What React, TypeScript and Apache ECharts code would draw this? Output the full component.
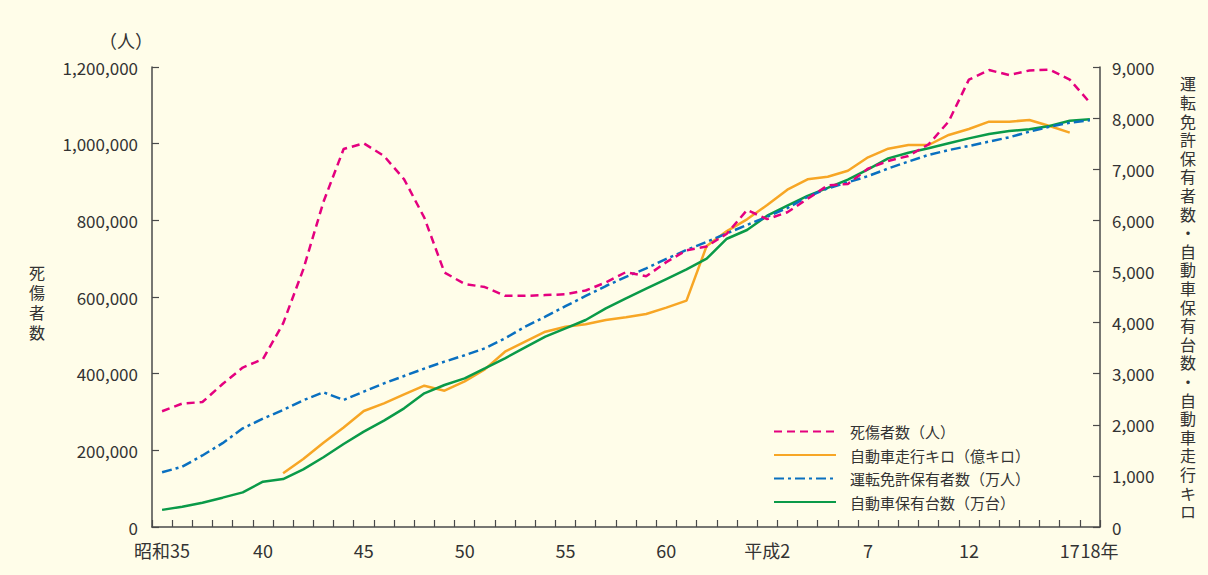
import React, { useEffect, useRef } from "react";
import * as echarts from "echarts";

const BG = "#fffde9";
const FONT = '"Noto Sans CJK JP", "Noto Sans", sans-serif';
const TEXT = "#333333";
const AXIS = "#4a4a4a";

const categories = [
  "昭和35", "36", "37", "38", "39", "40", "41", "42", "43", "44",
  "45", "46", "47", "48", "49", "50", "51", "52", "53", "54",
  "55", "56", "57", "58", "59", "60", "61", "62", "63", "平成元",
  "2", "3", "4", "5", "6", "7", "8", "9", "10", "11",
  "12", "13", "14", "15", "16", "17", "18",
];

const xLabelIndices = [0, 5, 10, 15, 20, 25, 30, 35, 40, 45, 46];
const xLabelTexts = ["昭和35", "40", "45", "50", "55", "60", "平成2", "7", "12", "17", "18年"];

const seriesNames = [
  "死傷者数（人）",
  "自動車走行キロ（億キロ）",
  "運転免許保有者数（万人）",
  "自動車保有台数（万台）",
];

// 死傷者数（人） — left axis
const casualties = [
  302000, 322000, 326000, 373000, 416000, 438000, 531000, 672000, 848000, 986000,
  1001000, 968000, 907000, 807000, 664000, 634000, 626000, 603000, 603000, 605000,
  607000, 617000, 638000, 665000, 654000, 691000, 722000, 732000, 765000, 827000,
  803000, 821000, 856000, 891000, 895000, 935000, 955000, 968000, 998000, 1058000,
  1167000, 1192000, 1179000, 1191000, 1193000, 1167000, 1107000,
];

// 自動車走行キロ（億キロ） — right axis
const vehicleKm = [
  null, null, null, null, null, null, 1050, 1330, 1650, 1945,
  2270, 2420, 2595, 2765, 2667, 2850, 3085, 3430, 3626, 3821,
  3919, 3965, 4050, 4103, 4167, 4291, 4428, 5500, 5790, 6020,
  6300, 6600, 6803, 6854, 6971, 7233, 7402, 7474, 7474, 7670,
  7787, 7930, 7930, 7963, 7845, 7715, null,
];

// 運転免許保有者数（万人） — right axis
const licenseHolders = [
  1070, 1180, 1400, 1640, 1930, 2120, 2290, 2480, 2635, 2485,
  2650, 2810, 2955, 3100, 3235, 3360, 3496, 3690, 3920, 4115,
  4320, 4520, 4715, 4895, 5060, 5245, 5420, 5580, 5745, 5910,
  6070, 6240, 6460, 6625, 6745, 6865, 7015, 7150, 7280, 7375,
  7455, 7540, 7625, 7735, 7830, 7910, 7960,
];

// 自動車保有台数（万台） — right axis
const vehicles = [
  335, 398, 476, 574, 678, 887, 939, 1128, 1364, 1624,
  1865, 2080, 2322, 2615, 2778, 2909, 3104, 3300, 3515, 3724,
  3887, 4050, 4278, 4474, 4663, 4852, 5041, 5250, 5640, 5811,
  6090, 6290, 6480, 6636, 6795, 6998, 7213, 7323, 7409, 7507,
  7604, 7689, 7748, 7781, 7845, 7949, 7976,
];

const leftAxis = { min: 0, max: 1200000, interval: 200000 };
const rightAxis = { min: 0, max: 9000, interval: 1000 };

const leftTitle = "（人）";
const leftName = "死傷者数";
const rightName = "運転免許保有者数・自動車保有台数・自動車走行キロ";

const colors = ["#e4007f", "#f7a625", "#0a70c0", "#0a9a48"];

function fmt(v: number) {
  return v.toLocaleString("en-US");
}

export default function App() {
  const ref = useRef<HTMLDivElement>(null);

  useEffect(() => {
    document.body.style.margin = "0";
    document.body.style.background = BG;
    const chart = echarts.init(ref.current as HTMLDivElement, null, { renderer: "svg" });

    const axisCommon = {
      axisLine: { show: true, lineStyle: { color: AXIS, width: 1.5 } },
      axisTick: { show: true, inside: true, length: 7, lineStyle: { color: AXIS, width: 1.2 } },
      splitLine: { show: false },
    };

    chart.setOption({
      animation: false,
      backgroundColor: BG,
      textStyle: { fontFamily: FONT },
      grid: { left: 152, right: 108, top: 67, bottom: 48, containLabel: false },
      legend: {
        orient: "vertical",
        left: 768,
        top: 419,
        itemWidth: 62,
        itemHeight: 14,
        itemGap: 8.5,
        data: seriesNames,
        itemStyle: { opacity: 0 },
        lineStyle: { opacity: 1 },
        formatter: (name: string) => `{t|${name}}`,
        textStyle: {
          color: TEXT,
          fontSize: 15,
          fontFamily: FONT,
          rich: { t: { fontSize: 15, fontFamily: FONT, color: TEXT, padding: [0, 0, 0, 9] } },
        },
      },
      xAxis: {
        type: "category",
        data: categories,
        boundaryGap: true,
        ...axisCommon,
        axisTick: { ...axisCommon.axisTick, interval: 0 },
        axisLabel: {
          interval: (i: number) => xLabelIndices.indexOf(i) >= 0,
          formatter: (_v: string, i: number) => {
            const k = xLabelIndices.indexOf(i);
            if (k < 0) return "";
            if (i === categories.length - 1) return `{last|${xLabelTexts[k]}}`;
            return xLabelTexts[k];
          },
          color: TEXT,
          fontSize: 18,
          fontFamily: FONT,
          margin: 14,
          rich: { last: { fontSize: 18, fontFamily: FONT, color: TEXT, padding: [0, 0, 0, 19] } },
        },
      },
      yAxis: [
        {
          type: "value",
          position: "left",
          ...leftAxis,
          ...axisCommon,
          axisLabel: { formatter: fmt, color: TEXT, fontSize: 17, fontFamily: FONT, margin: 14 },
        },
        {
          type: "value",
          position: "right",
          ...rightAxis,
          ...axisCommon,
          axisLabel: { formatter: fmt, color: TEXT, fontSize: 17, fontFamily: FONT, margin: 12 },
        },
      ],
      series: [
        {
          name: seriesNames[0],
          type: "line",
          yAxisIndex: 0,
          data: casualties,
          symbol: "none",
          z: 5,
          lineStyle: { color: colors[0], width: 2.5, type: [8, 5] },
          itemStyle: { color: colors[0] },
        },
        {
          name: seriesNames[1],
          type: "line",
          yAxisIndex: 1,
          data: vehicleKm,
          symbol: "none",
          z: 2,
          lineStyle: { color: colors[1], width: 2.5, type: "solid" },
          itemStyle: { color: colors[1] },
        },
        {
          name: seriesNames[2],
          type: "line",
          yAxisIndex: 1,
          data: licenseHolders,
          symbol: "none",
          z: 4,
          lineStyle: { color: colors[2], width: 2.5, type: [10, 4, 3, 4] },
          itemStyle: { color: colors[2] },
        },
        {
          name: seriesNames[3],
          type: "line",
          yAxisIndex: 1,
          data: vehicles,
          symbol: "none",
          z: 3,
          lineStyle: { color: colors[3], width: 2.5, type: "solid" },
          itemStyle: { color: colors[3] },
        },
      ],
      graphic: [
        {
          type: "text",
          x: 126,
          y: 40,
          style: {
            text: leftTitle,
            fill: TEXT,
            fontSize: 18,
            fontFamily: FONT,
            align: "center",
            verticalAlign: "middle",
          },
        },
        {
          type: "text",
          x: 37,
          y: 262,
          style: {
            text: leftName.split("").join("\n"),
            fill: TEXT,
            fontSize: 16,
            fontFamily: FONT,
            lineHeight: 20,
            align: "center",
            verticalAlign: "top",
          },
        },
        {
          type: "text",
          x: 1188,
          y: 74,
          style: {
            text: rightName.split("").join("\n"),
            fill: TEXT,
            fontSize: 16,
            fontFamily: FONT,
            lineHeight: 18.6,
            align: "center",
            verticalAlign: "top",
          },
        },
      ],
    });

    return () => chart.dispose();
  }, []);

  return <div ref={ref} style={{ width: 1208, height: 575, background: BG }} />;
}
